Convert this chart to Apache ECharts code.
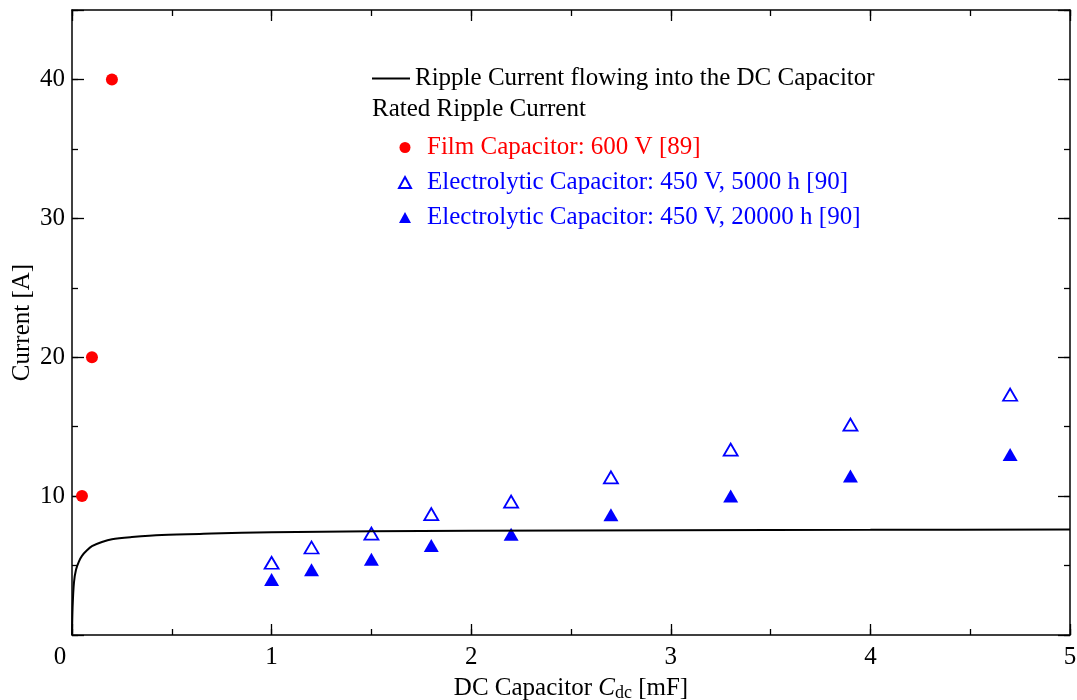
<!DOCTYPE html>
<html>
<head>
<meta charset="utf-8">
<script src="https://cdn.jsdelivr.net/npm/echarts@6/dist/echarts.min.js"></script>
<style>
  html, body { margin: 0; padding: 0; background: #fff; }
  #chart { width: 1077px; height: 700px; }
</style>
</head>
<body>
<div id="chart"></div>
<script>
// ripple current flowing into the DC capacitor
const rippleX = [0, 0.003, 0.01, 0.02, 0.035, 0.05, 0.075, 0.1, 0.15, 0.2, 0.3, 0.45, 0.7, 1.0, 1.5, 2.0, 3.0, 4.0, 5.0]
const rippleY = [0, 2.0, 3.8, 4.7, 5.3, 5.7, 6.1, 6.4, 6.7, 6.9, 7.05, 7.2, 7.3, 7.4, 7.47, 7.5, 7.55, 7.57, 7.6]

// rated ripple current
const filmC = [0.05, 0.1, 0.2]
const filmI = [10, 20, 40]
const elecC = [1.0, 1.2, 1.5, 1.8, 2.2, 2.7, 3.3, 3.9, 4.7]
const elec5000I = [5.2, 6.3, 7.3, 8.7, 9.6, 11.35, 13.35, 15.15, 17.3]
const elec20000I = [4.0, 4.7, 5.45, 6.45, 7.25, 8.65, 10.0, 11.45, 13.0]

const names = [
  'Ripple Current flowing into the DC Capacitor',
  'Film Capacitor: 600 V [89]',
  'Electrolytic Capacitor: 450 V, 5000 h [90]',
  'Electrolytic Capacitor: 450 V, 20000 h [90]'
]

const FONT = '"Liberation Serif", "DejaVu Serif", serif'
const FS = 25
const RED = '#ff0000'
const BLUE = '#0000ff'

const pairs = (xs, ys) => xs.map((x, i) => [x, ys[i]])

// grid 0 carries the data and the long ticks, grid 1 (same box) only the short ticks
function xAx(grid, pos, interval, len, extra) {
  return Object.assign({
    type: 'value', gridIndex: grid, position: pos, min: 0, max: 5, interval: interval,
    axisLine: { show: grid === 0, onZero: false, lineStyle: { color: '#000', width: 1.5 } },
    axisTick: { show: true, inside: true, length: len, lineStyle: { color: '#000', width: 1.3 } },
    axisLabel: { show: false },
    splitLine: { show: false }
  }, extra || {})
}
function yAx(grid, pos, interval, len, extra) {
  return Object.assign({
    type: 'value', gridIndex: grid, position: pos, min: 0, max: 45, interval: interval,
    axisLine: { show: grid === 0, onZero: false, lineStyle: { color: '#000', width: 1.5 } },
    axisTick: { show: true, inside: true, length: len, lineStyle: { color: '#000', width: 1.3 } },
    axisLabel: { show: false },
    splitLine: { show: false }
  }, extra || {})
}

const box = { left: 72, right: 7, top: 10, bottom: 65, containLabel: false, outerBoundsMode: 'none' }

const chart = echarts.init(document.getElementById('chart'))
chart.setOption({
  animation: false,
  textStyle: { fontFamily: FONT },
  grid: [Object.assign({}, box), Object.assign({}, box)],
  xAxis: [
    xAx(0, 'bottom', 1, 11, {
      name: '{n|DC Capacitor }{i|C}{s|dc}{n| [mF]}',
      nameLocation: 'middle', nameGap: 40,
      nameTextStyle: {
        rich: {
          n: { fontFamily: FONT, fontSize: FS, color: '#000' },
          i: { fontFamily: FONT, fontSize: FS, fontStyle: 'italic', color: '#000' },
          s: { fontFamily: FONT, fontSize: 18, color: '#000', verticalAlign: 'bottom', padding: [9, 0, 0, 0] }
        }
      },
      axisLabel: {
        show: true, margin: 10, color: '#000', fontFamily: FONT, fontSize: FS,
        formatter: v => v === 0 ? '{z|0}' : String(v),
        rich: { z: { fontFamily: FONT, fontSize: FS, color: '#000', padding: [0, 24, 0, 0] } }
      }
    }),
    xAx(0, 'top', 1, 11),
    xAx(1, 'bottom', 0.5, 6),
    xAx(1, 'top', 0.5, 6)
  ],
  yAxis: [
    yAx(0, 'left', 10, 12, {
      name: 'Current [A]', nameLocation: 'middle', nameGap: 37, nameRotate: 90,
      nameMoveOverlap: false,
      nameTextStyle: { fontFamily: FONT, fontSize: FS, color: '#000' },
      axisLabel: {
        show: true, margin: 7, color: '#000', fontFamily: FONT, fontSize: FS,
        formatter: v => (v === 0 || v % 10 !== 0) ? '' : String(v)
      }
    }),
    yAx(0, 'right', 10, 12),
    yAx(1, 'left', 5, 6),
    yAx(1, 'right', 5, 6)
  ],
  legend: [
    {
      data: [names[0]],
      left: 372, top: 66, padding: 0,
      itemWidth: 38, itemHeight: 2, icon: 'rect', itemGap: 6,
      textStyle: { fontFamily: FONT, fontSize: FS, color: '#000' }
    },
    {
      data: [
        { name: names[1], textStyle: { color: RED } },
        { name: names[2], textStyle: { color: BLUE } },
        { name: names[3], textStyle: { color: BLUE } }
      ],
      orient: 'vertical', left: 398, top: 135, padding: 0,
      itemWidth: 12, itemHeight: 11, itemGap: 10,
      textStyle: { fontFamily: FONT, fontSize: FS, padding: [0, 0, 0, 11] }
    }
  ],
  graphic: [{
    type: 'text', left: 372, top: 97,
    style: { text: 'Rated Ripple Current', fontFamily: FONT, fontSize: FS, fill: '#000' }
  }],
  series: [
    {
      name: names[0], type: 'line', smooth: 0.3, showSymbol: false, symbol: 'none',
      xAxisIndex: 0, yAxisIndex: 0,
      data: pairs(rippleX, rippleY),
      lineStyle: { color: '#000', width: 2 }, itemStyle: { color: '#000' }
    },
    {
      name: names[1], type: 'scatter', symbol: 'circle', symbolSize: 12,
      xAxisIndex: 0, yAxisIndex: 0,
      data: pairs(filmC, filmI),
      itemStyle: { color: RED, opacity: 1 }
    },
    {
      name: names[2], type: 'scatter', symbol: 'triangle', symbolSize: [14, 12],
      xAxisIndex: 0, yAxisIndex: 0,
      data: pairs(elecC, elec5000I),
      itemStyle: { color: '#fff', borderColor: BLUE, borderWidth: 1.8, opacity: 1 }
    },
    {
      name: names[3], type: 'scatter', symbol: 'triangle', symbolSize: [15, 13],
      xAxisIndex: 0, yAxisIndex: 0,
      data: pairs(elecC, elec20000I),
      itemStyle: { color: BLUE, opacity: 1 }
    }
  ]
})
</script>
</body>
</html>
